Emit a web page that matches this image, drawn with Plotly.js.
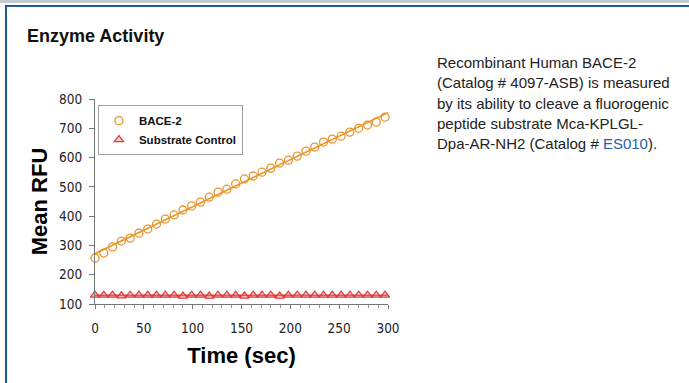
<!DOCTYPE html>
<html>
<head>
<meta charset="utf-8">
<script src="https://cdn.plot.ly/plotly-3.0.1.min.js"></script>
<style>
  html, body { margin: 0; padding: 0; background: #ffffff; }
  #wrap { position: relative; width: 689px; height: 383px; overflow: hidden; background: #fff; }
  #chart { position: absolute; left: 0; top: 0; width: 689px; height: 383px; }
  .topgray { position: absolute; left: 0; top: 0; width: 689px; height: 3px; background: #c3cad2; }
  .topblue { position: absolute; left: 6px; top: 5px; width: 683px; height: 2px; background: #1f5a9c; }
  .leftblue { position: absolute; left: 5px; top: 5px; width: 2px; height: 378px; background: #1f5a9c; }
  #title { position: absolute; left: 27px; top: 26px; font: bold 18px "Liberation Sans", Arial, sans-serif; color: #111; }
  #desc { position: absolute; left: 437px; top: 53px; font: 15px "Liberation Sans", Arial, sans-serif; line-height: 20.3px; color: #222; white-space: nowrap; }
  #desc .link { color: #1f5fa6; }
</style>
</head>
<body>
<div id="wrap">
  <div id="chart"></div>
  <div class="topgray"></div>
  <div class="topblue"></div>
  <div class="leftblue"></div>
  <div id="title">Enzyme Activity</div>
  <div id="desc">Recombinant Human BACE-2<br>(Catalog # 4097-ASB) is measured<br>by its ability to cleave a fluorogenic<br>peptide substrate Mca-KPLGL-<br>Dpa-AR-NH2 (Catalog # <span class="link">ES010</span>).</div>
</div>
<script>
// Time points (sec)
const timeSec = [0, 9, 18, 27, 36, 45, 54, 63, 72, 81, 90, 99, 108, 117, 126, 135, 144,
                 153, 162, 171, 180, 189, 198, 207, 216, 225, 234, 243, 252, 261, 270, 279, 288, 297];
// BACE-2 mean RFU
const bace2 = [257, 274, 295, 315, 325, 342, 356, 373, 390, 404, 421, 435, 448, 465, 482, 492, 510,
               527, 537, 550, 564, 581, 591, 605, 622, 636, 653, 663, 673, 687, 700, 711, 721, 738];
// Substrate control mean RFU
const substrateControl = [130, 130, 130, 128, 130, 130, 130, 130, 130, 130, 127, 130, 130, 127, 130, 130, 130,
                          127, 130, 130, 130, 127, 130, 130, 130, 130, 130, 130, 130, 130, 130, 130, 130, 130];
const seriesNames = ["BACE-2", "Substrate Control"];
const xTickVals = [0, 50, 100, 150, 200, 250, 300];
const yTickVals = [100, 200, 300, 400, 500, 600, 700, 800];

function linFit(x, y) {
  const n = x.length;
  const mx = x.reduce((a, b) => a + b, 0) / n;
  const my = y.reduce((a, b) => a + b, 0) / n;
  let sxy = 0, sxx = 0;
  for (let i = 0; i < n; i++) { sxy += (x[i] - mx) * (y[i] - my); sxx += (x[i] - mx) * (x[i] - mx); }
  const m = sxy / sxx;
  return { m: m, b: my - m * mx };
}
const xEnds = [xTickVals[0], xTickVals[xTickVals.length - 1]];
const fitB = linFit(timeSec, bace2);
const fitS = linFit(timeSec, substrateControl);

const orange = "#e8962a";
const red = "#e03a3a";

const traces = [
  { x: xEnds, y: xEnds.map(t => fitB.m * t + fitB.b), mode: "lines", line: { color: orange, width: 1.6 },
    showlegend: false, hoverinfo: "skip", cliponaxis: false },
  { x: xEnds, y: xEnds.map(t => fitS.m * t + fitS.b), mode: "lines", line: { color: red, width: 1.6 },
    showlegend: false, hoverinfo: "skip", cliponaxis: false },
  { x: timeSec, y: bace2, name: seriesNames[0], mode: "markers", cliponaxis: false,
    marker: { symbol: "circle-open", size: 8, color: orange, line: { width: 1.3, color: orange } } },
  { x: timeSec, y: substrateControl, name: seriesNames[1], mode: "markers", cliponaxis: false,
    marker: { symbol: "triangle-up", size: 8, color: "rgba(230,140,140,0.4)", line: { width: 1.3, color: red } } }
];

const tickFont = { family: "DejaVu Sans Condensed, Liberation Sans Narrow, sans-serif", size: 13.5, color: "#222" };
const titleFont = { family: "Liberation Sans, Arial, sans-serif", size: 22, color: "#000", weight: "bold" };

const layout = {
  width: 689, height: 383,
  margin: { l: 95, r: 301, t: 99, b: 79, pad: 0 },
  paper_bgcolor: "rgba(0,0,0,0)", plot_bgcolor: "rgba(0,0,0,0)",
  showlegend: true,
  legend: {
    x: 0.01, y: 0.97, xanchor: "left", yanchor: "top",
    bordercolor: "#a0a0a0", borderwidth: 1, bgcolor: "#fff",
    font: { family: "Liberation Sans, Arial, sans-serif", size: 11.5, color: "#111", weight: "bold" },
    tracegroupgap: 0, itemwidth: 30
  },
  xaxis: {
    range: [0, 300], tickvals: xTickVals, ticks: "outside", ticklen: 4, tickcolor: "#777",
    minor: { dtick: 10, ticks: "outside", ticklen: 3, tickcolor: "#999" },
    showline: true, linecolor: "#777", linewidth: 1, showgrid: false, zeroline: false,
    tickfont: tickFont, ticklabelstandoff: 8,
    title: { text: "Time (sec)", font: titleFont, standoff: 12 }
  },
  yaxis: {
    range: [100, 800], tickvals: yTickVals, ticks: "outside", ticklen: 5, tickcolor: "#777",
    showline: true, linecolor: "#777", linewidth: 1, showgrid: false, zeroline: false,
    tickfont: tickFont, ticklabelstandoff: 4, automargin: true,
    title: { text: "Mean RFU", font: titleFont, standoff: 5 }
  }
};

Plotly.newPlot("chart", traces, layout, { staticPlot: true, displayModeBar: false });
</script>
</body>
</html>
